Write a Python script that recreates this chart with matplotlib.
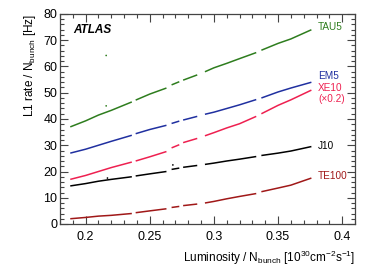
import numpy as np
import matplotlib
matplotlib.use('Agg')
import matplotlib.pyplot as plt
from matplotlib.ticker import MultipleLocator

plt.rcParams['font.family'] = ['Liberation Sans', 'DejaVu Sans']
plt.rcParams['mathtext.fontset'] = 'custom'
plt.rcParams['mathtext.rm'] = 'Liberation Sans'

nan = np.nan
# luminosity per bunch sample points (nan = gap in data)
lumi = [0.188, 0.200, 0.210, 0.220, 0.236, nan, 0.239, 0.250, 0.263, nan,
        0.267, 0.273, nan, 0.276, 0.287, nan, 0.293, 0.300, 0.310, 0.320,
        0.333, nan, 0.337, 0.350, 0.360, 0.376]

tau5 = [37.0, 39.3, 41.5, 43.3, 46.5, nan, 47.2, 49.5, 51.8, nan,
        53.0, 54.2, nan, 54.8, 56.8, nan, 58.0, 59.5, 61.2, 63.0,
        65.3, nan, 66.2, 68.8, 70.5, 74.0]
em5 = [27.0, 28.5, 30.0, 31.5, 33.8, nan, 34.4, 36.0, 37.6, nan,
       38.3, 39.2, nan, 39.6, 41.0, nan, 41.8, 42.6, 44.0, 45.4,
       47.4, nan, 48.0, 50.3, 51.8, 54.0]
xe10 = [17.0, 18.5, 20.0, 21.5, 23.6, nan, 24.0, 25.6, 27.6, nan,
        29.0, 30.2, nan, 31.0, 32.6, nan, 33.6, 34.8, 36.6, 38.2,
        41.0, nan, 42.0, 45.2, 47.3, 51.0]
j10 = [14.5, 15.4, 16.3, 17.0, 18.0, nan, 18.3, 19.1, 20.0, nan,
       20.8, 21.3, nan, 21.6, 22.3, nan, 22.7, 23.2, 24.0, 24.7,
       25.7, nan, 26.1, 27.0, 27.8, 29.5]
te100 = [2.0, 2.5, 3.0, 3.3, 4.0, nan, 4.3, 5.0, 5.8, nan,
         6.3, 6.7, nan, 7.0, 7.6, nan, 8.0, 8.6, 9.6, 10.5,
         11.6, nan, 12.3, 13.7, 14.8, 17.5]

# stray single points
out_x = [0.216, 0.216, 0.217, 0.268]
out_y = [64.2, 45.0, 17.5, 22.5]
out_c = ['#2e7d1e', '#2e7d1e', 'black', 'black']

series = [(tau5, '#2e7d1e', 'TAU5'), (em5, '#2030a0', 'EM5'),
          (xe10, '#ee2050', 'XE10'), (j10, 'black', 'J10'),
          (te100, '#a01818', 'TE100')]
label_y = {'TAU5': 75.0, 'EM5': 56.2, 'XE10': 51.7, 'J10': 29.9, 'TE100': 18.2}

fig = plt.figure(figsize=(3.74, 2.68), dpi=100)
ax = fig.add_axes([60 / 374, 1 - 224 / 268, 295 / 374, 210 / 268])

for vals, col, name in series:
    ax.plot(lumi, vals, color=col, lw=1.1, solid_capstyle='butt')
    ax.text(0.3812, label_y[name], name, color=col, fontsize=7.2,
            ha='left', va='center')
ax.text(0.3812, 47.5, '(×0.2)', color='#ee2050', fontsize=7.2, ha='left', va='center')
ax.scatter(out_x, out_y, s=1.5, c=out_c, lw=0)

ax.text(0.19, 74.0, 'ATLAS', fontsize=8.5, fontweight='bold', style='italic',
        ha='left', va='center')

ax.set_xlim(0.18, 0.41)
ax.set_ylim(0, 80)
ax.xaxis.set_major_locator(MultipleLocator(0.05))
ax.xaxis.set_minor_locator(MultipleLocator(0.01))
ax.yaxis.set_major_locator(MultipleLocator(10))
ax.yaxis.set_minor_locator(MultipleLocator(2))
ax.set_xticks([0.2, 0.25, 0.3, 0.35, 0.4])
ax.set_xticklabels(['0.2', '0.25', '0.3', '0.35', '0.4'])
ax.tick_params(which='both', direction='in', top=True, right=True,
               labelsize=9, color='#444444', width=0.8)
ax.tick_params(which='major', length=6)
ax.tick_params(which='minor', length=3)
ax.tick_params(axis='x', pad=5)
ax.tick_params(axis='y', pad=2)
for sp in ax.spines.values():
    sp.set_color('#444444')
    sp.set_linewidth(0.9)

ax.set_xlabel(r'Luminosity / N$_{\rm bunch}$ [10$^{30}$cm$^{-2}$s$^{-1}$]',
              fontsize=8.5, loc='right')
ax.set_ylabel(r'L1 rate / N$_{\rm bunch}$ [Hz]', fontsize=8.5, loc='top')

fig.savefig('out.png', dpi=100)
